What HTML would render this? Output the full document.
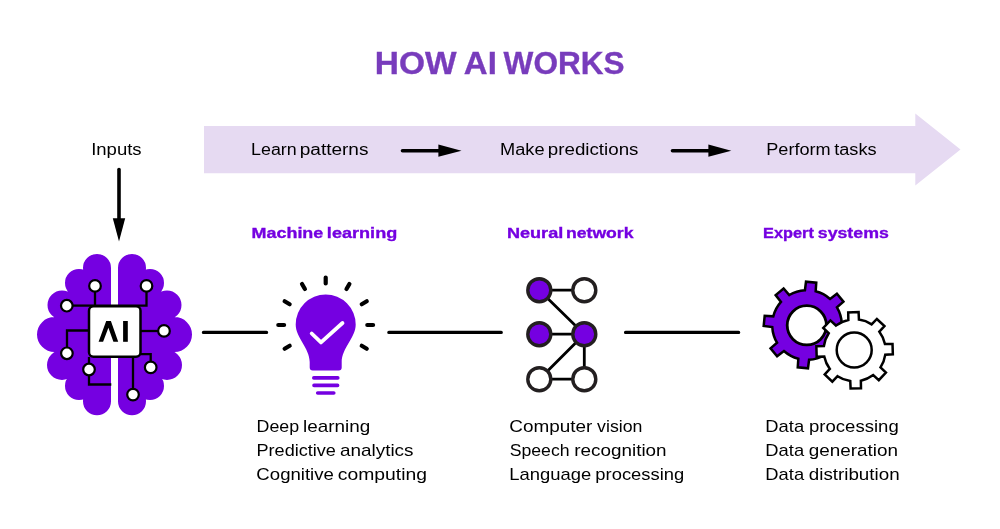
<!DOCTYPE html>
<html><head><meta charset="utf-8"><title>How AI Works</title>
<style>
html,body{margin:0;padding:0;background:#fff;}
body{width:1000px;height:529px;overflow:hidden;}
svg{display:block;will-change:transform;font-family:"Liberation Sans",sans-serif;}
</style></head><body>
<svg width="1000" height="529" viewBox="0 0 1000 529">
<rect width="1000" height="529" fill="#fff"/>
<polygon points="204,126 915.3,126 915.3,113.5 960.5,149.6 915.3,185.6 915.3,173.3 204,173.3" fill="#E6DAF2"/>
<path d="M402.5 150.7H440.4" stroke="#000" stroke-width="3.6" stroke-linecap="round"/><polygon points="438.4,144.6 461.5,150.7 438.4,156.79999999999998" fill="#000"/>
<path d="M672.5 150.7H710.4" stroke="#000" stroke-width="3.6" stroke-linecap="round"/><polygon points="708.4,144.6 731.3,150.7 708.4,156.79999999999998" fill="#000"/>
<path d="M119 169.5V220" stroke="#000" stroke-width="3.6" stroke-linecap="round"/>
<polygon points="112.8,218.2 125.2,218.2 119,241.6" fill="#000"/>
<path d="M203.5 332.4H266.5M388.9 332.4H501.2M625.6 332.4H738.6" stroke="#000" stroke-width="3.4" stroke-linecap="round"/>
<path fill="#7500E1" d="M83.00 268A14 14 0 1 1 111.00 268A14 14 0 1 1 83.00 268ZM65.00 283A14 14 0 1 1 93.00 283A14 14 0 1 1 65.00 283ZM47.50 305A14.5 14.5 0 1 1 76.50 305A14.5 14.5 0 1 1 47.50 305ZM37.00 334.5A17.5 17.5 0 1 1 72.00 334.5A17.5 17.5 0 1 1 37.00 334.5ZM47.00 365A15 15 0 1 1 77.00 365A15 15 0 1 1 47.00 365ZM65.00 386A14 14 0 1 1 93.00 386A14 14 0 1 1 65.00 386ZM83.00 401.3A14 14 0 1 1 111.00 401.3A14 14 0 1 1 83.00 401.3ZM111.00 268L111.00 401.3L97.00 401.3L79.00 386L62.00 365L54.50 334.5L62.00 305L79.00 283L97.00 268ZM118.00 268A14 14 0 1 1 146.00 268A14 14 0 1 1 118.00 268ZM136.00 283A14 14 0 1 1 164.00 283A14 14 0 1 1 136.00 283ZM152.50 305A14.5 14.5 0 1 1 181.50 305A14.5 14.5 0 1 1 152.50 305ZM157.00 334.5A17.5 17.5 0 1 1 192.00 334.5A17.5 17.5 0 1 1 157.00 334.5ZM152.00 365A15 15 0 1 1 182.00 365A15 15 0 1 1 152.00 365ZM136.00 386A14 14 0 1 1 164.00 386A14 14 0 1 1 136.00 386ZM118.00 401.3A14 14 0 1 1 146.00 401.3A14 14 0 1 1 118.00 401.3ZM132.00 268L150.00 283L167.00 305L174.50 334.5L167.00 365L150.00 386L132.00 401.3L118.00 401.3L118.00 268Z"/>
<g fill="none" stroke="#000" stroke-width="2.3">
<path d="M95 291.7V305.6H146.5V291.7"/>
<path d="M72.7 305.6H95"/>
<path d="M141 331H158.2"/>
<path d="M67 347.5V330.5H89"/>
<path d="M89 357V363.7M89 375.3V384.5H111.3"/>
<path d="M150.7 361.6V354.2H139"/>
<path d="M133 357V388.8"/>
</g>
<rect x="89" y="306.3" width="51.5" height="50.5" rx="4.5" fill="#fff" stroke="#000" stroke-width="2.5"/>
<g fill="#000">
<polygon points="106.2,321 110.9,321 118.2,341.8 113.4,341.8 108.4,327.8 103.1,341.8 98.6,341.8"/>
<rect x="123.1" y="321" width="4.7" height="20.8"/>
</g>
<g fill="#fff" stroke="#000" stroke-width="2.2">
<circle cx="95" cy="285.9" r="5.8"/>
<circle cx="66.8" cy="305.7" r="5.8"/>
<circle cx="146.5" cy="285.9" r="5.8"/>
<circle cx="164" cy="330.9" r="5.8"/>
<circle cx="66.9" cy="353.3" r="5.8"/>
<circle cx="89" cy="369.5" r="5.8"/>
<circle cx="150.7" cy="367.4" r="5.8"/>
<circle cx="133" cy="394.6" r="5.8"/>
</g>
<path d="M284.10 325.00L278.30 325.00M289.67 345.80L284.65 348.70M289.67 304.20L284.65 301.30M304.90 288.97L302.00 283.95M325.70 283.40L325.70 277.60M346.50 288.97L349.40 283.95M361.73 304.20L366.75 301.30M367.30 325.00L373.10 325.00M361.73 345.80L366.75 348.70" stroke="#000" stroke-width="4.2" stroke-linecap="round" fill="none"/>
<path d="M325.7 294.5A30 30 0 0 1 355.7 324.5C355.7 338 341.7 348 341.7 362V367.5Q341.7 370.5 338.7 370.5H312.7Q309.7 370.5 309.7 367.5V362C309.7 348 295.7 338 295.7 324.5A30 30 0 0 1 325.7 294.5Z" fill="#7500E1"/>
<path d="M311.7 333.5L321 342.4L342.5 323" stroke="#fff" stroke-width="3.8" stroke-linecap="round" stroke-linejoin="round" fill="none"/>
<path d="M313.8 377.9H337.8M314 385.4H337.6M317.7 393H333.8" stroke="#7500E1" stroke-width="3.6" stroke-linecap="round"/>
<path d="M539.3 290.2H584.3M539.3 334.2H584.3M539.3 379.2H584.3M539.3 290.2L584.3 334.2L539.3 379.2M584.3 334.2V379.2" stroke="#000" stroke-width="2.8" fill="none"/>
<g stroke="#231F20" stroke-width="3.4">
<circle cx="539.3" cy="290.2" r="11.5" fill="#7500E1"/>
<circle cx="584.3" cy="290.2" r="11.5" fill="#fff"/>
<circle cx="539.3" cy="334.2" r="11.5" fill="#7500E1"/>
<circle cx="584.3" cy="334.2" r="11.5" fill="#7500E1"/>
<circle cx="539.3" cy="379.2" r="11.5" fill="#fff"/>
<circle cx="584.3" cy="379.2" r="11.5" fill="#fff"/>
</g>
<g stroke="#000" stroke-width="2.5" stroke-linejoin="miter">
<path d="M804.92 290.26L806.00 281.70L816.25 282.69L815.67 291.30A34.8 34.8 0 0 1 830.09 298.97L836.90 293.67L843.46 301.62L836.96 307.30A34.8 34.8 0 0 1 841.74 322.92L850.30 324.00L849.31 334.25L840.70 333.67A34.8 34.8 0 0 1 833.03 348.09L838.33 354.90L830.38 361.46L824.70 354.96A34.8 34.8 0 0 1 809.08 359.74L808.00 368.30L797.75 367.31L798.33 358.70A34.8 34.8 0 0 1 783.91 351.03L777.10 356.33L770.54 348.38L777.04 342.70A34.8 34.8 0 0 1 772.26 327.08L763.70 326.00L764.69 315.75L773.30 316.33A34.8 34.8 0 0 1 780.97 301.91L775.67 295.10L783.62 288.54L789.30 295.04A34.8 34.8 0 0 1 804.92 290.26Z" fill="#7500E1"/>
<circle cx="806.8" cy="325.3" r="19.6" fill="#fff" stroke-width="2.8"/>
<path d="M848.34 319.94L848.21 312.38L858.60 312.06L858.94 319.61A31 31 0 0 1 871.64 324.41L876.89 318.97L884.47 326.09L879.37 331.66A31 31 0 0 1 884.96 344.04L892.52 343.91L892.84 354.30L885.29 354.64A31 31 0 0 1 880.49 367.34L885.93 372.59L878.81 380.17L873.24 375.07A31 31 0 0 1 860.86 380.66L860.99 388.22L850.60 388.54L850.26 380.99A31 31 0 0 1 837.56 376.19L832.31 381.63L824.73 374.51L829.83 368.94A31 31 0 0 1 824.24 356.56L816.68 356.69L816.36 346.30L823.91 345.96A31 31 0 0 1 828.71 333.26L823.27 328.01L830.39 320.43L835.96 325.53A31 31 0 0 1 848.34 319.94Z" fill="#fff"/>
<circle cx="854.2" cy="350.1" r="17.5" fill="#fff"/>
</g>
<text x="374.88" y="74" font-size="32" font-weight="700" fill="#783CBC" stroke="#783CBC" stroke-width="0.35" textLength="81.68" lengthAdjust="spacingAndGlyphs">HOW</text><text x="463.86" y="74" font-size="32" font-weight="700" fill="#783CBC" stroke="#783CBC" stroke-width="0.35" textLength="32.98" lengthAdjust="spacingAndGlyphs">AI</text><text x="503.61" y="74" font-size="32" font-weight="700" fill="#783CBC" stroke="#783CBC" stroke-width="0.35" textLength="121.0" lengthAdjust="spacingAndGlyphs">WORKS</text><text x="91.17" y="154.8" font-size="16.0" font-weight="400" fill="#000" textLength="50.44" lengthAdjust="spacingAndGlyphs">Inputs</text><text x="251.13" y="155.4" font-size="16.0" font-weight="400" fill="#000" textLength="45.6" lengthAdjust="spacingAndGlyphs">Learn</text><text x="299.73" y="155.4" font-size="16.0" font-weight="400" fill="#000" textLength="68.74" lengthAdjust="spacingAndGlyphs">patterns</text><text x="500.1" y="155.4" font-size="16.0" font-weight="400" fill="#000" textLength="44.5" lengthAdjust="spacingAndGlyphs">Make</text><text x="547.85" y="155.4" font-size="16.0" font-weight="400" fill="#000" textLength="90.6" lengthAdjust="spacingAndGlyphs">predictions</text><text x="766.31" y="155.4" font-size="16.0" font-weight="400" fill="#000" textLength="64.4" lengthAdjust="spacingAndGlyphs">Perform</text><text x="834.2" y="155.4" font-size="16.0" font-weight="400" fill="#000" textLength="42.44" lengthAdjust="spacingAndGlyphs">tasks</text><text x="251.61" y="238.4" font-size="15.4" font-weight="700" fill="#7500E1" stroke="#7500E1" stroke-width="0.35" textLength="71.66" lengthAdjust="spacingAndGlyphs">Machine</text><text x="326.88" y="238.4" font-size="15.4" font-weight="700" fill="#7500E1" stroke="#7500E1" stroke-width="0.35" textLength="70.36" lengthAdjust="spacingAndGlyphs">learning</text><text x="506.91" y="238.4" font-size="15.4" font-weight="700" fill="#7500E1" stroke="#7500E1" stroke-width="0.35" textLength="56.35" lengthAdjust="spacingAndGlyphs">Neural</text><text x="566.02" y="238.4" font-size="15.4" font-weight="700" fill="#7500E1" stroke="#7500E1" stroke-width="0.35" textLength="67.47" lengthAdjust="spacingAndGlyphs">network</text><text x="763.1" y="238.4" font-size="15.4" font-weight="700" fill="#7500E1" stroke="#7500E1" stroke-width="0.35" textLength="50.82" lengthAdjust="spacingAndGlyphs">Expert</text><text x="817.77" y="238.4" font-size="15.4" font-weight="700" fill="#7500E1" stroke="#7500E1" stroke-width="0.35" textLength="71.04" lengthAdjust="spacingAndGlyphs">systems</text><text x="256.53" y="431.8" font-size="16.6" font-weight="400" fill="#000" textLength="42.6" lengthAdjust="spacingAndGlyphs">Deep</text><text x="303.1" y="431.8" font-size="16.6" font-weight="400" fill="#000" textLength="67.16" lengthAdjust="spacingAndGlyphs">learning</text><text x="256.51" y="455.8" font-size="16.6" font-weight="400" fill="#000" textLength="79.44" lengthAdjust="spacingAndGlyphs">Predictive</text><text x="339.95" y="455.8" font-size="16.6" font-weight="400" fill="#000" textLength="73.57" lengthAdjust="spacingAndGlyphs">analytics</text><text x="256.39" y="479.8" font-size="16.6" font-weight="400" fill="#000" textLength="77.53" lengthAdjust="spacingAndGlyphs">Cognitive</text><text x="337.85" y="479.8" font-size="16.6" font-weight="400" fill="#000" textLength="89.1" lengthAdjust="spacingAndGlyphs">computing</text><text x="509.39" y="431.8" font-size="16.6" font-weight="400" fill="#000" textLength="83.03" lengthAdjust="spacingAndGlyphs">Computer</text><text x="597.13" y="431.8" font-size="16.6" font-weight="400" fill="#000" textLength="45.31" lengthAdjust="spacingAndGlyphs">vision</text><text x="509.72" y="455.8" font-size="16.6" font-weight="400" fill="#000" textLength="59.85" lengthAdjust="spacingAndGlyphs">Speech</text><text x="574.31" y="455.8" font-size="16.6" font-weight="400" fill="#000" textLength="92.27" lengthAdjust="spacingAndGlyphs">recognition</text><text x="509.38" y="479.8" font-size="16.6" font-weight="400" fill="#000" textLength="81.94" lengthAdjust="spacingAndGlyphs">Language</text><text x="595.37" y="479.8" font-size="16.6" font-weight="400" fill="#000" textLength="88.81" lengthAdjust="spacingAndGlyphs">processing</text><text x="765.39" y="431.8" font-size="16.6" font-weight="400" fill="#000" textLength="38.75" lengthAdjust="spacingAndGlyphs">Data</text><text x="809.06" y="431.8" font-size="16.6" font-weight="400" fill="#000" textLength="89.67" lengthAdjust="spacingAndGlyphs">processing</text><text x="765.39" y="455.8" font-size="16.6" font-weight="400" fill="#000" textLength="38.75" lengthAdjust="spacingAndGlyphs">Data</text><text x="808.78" y="455.8" font-size="16.6" font-weight="400" fill="#000" textLength="89.25" lengthAdjust="spacingAndGlyphs">generation</text><text x="765.39" y="479.8" font-size="16.6" font-weight="400" fill="#000" textLength="38.75" lengthAdjust="spacingAndGlyphs">Data</text><text x="808.78" y="479.8" font-size="16.6" font-weight="400" fill="#000" textLength="90.85" lengthAdjust="spacingAndGlyphs">distribution</text>
</svg>
</body></html>
